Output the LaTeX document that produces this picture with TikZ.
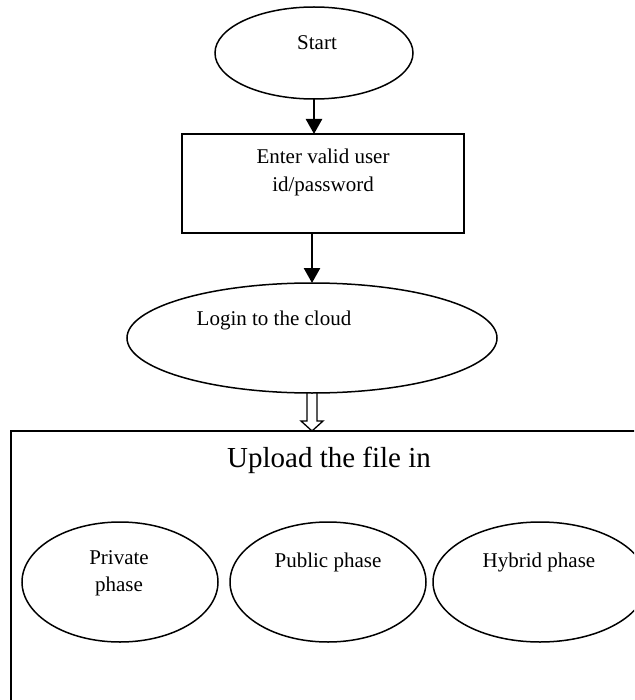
\documentclass[tikz,border=0pt]{standalone}
\usepackage{fontspec}
\setmainfont{Liberation Serif}
\usetikzlibrary{arrows.meta,shapes.geometric,calc}
\begin{document}
\begin{tikzpicture}[x=1pt,y=-1pt,
  oval/.style={draw, ellipse, line width=1.5pt, inner sep=0pt, outer sep=0pt},
  boxed/.style={draw, line width=1.6pt, inner sep=0pt, outer sep=0pt},
  txt/.style={font=\fontsize{21}{28}\selectfont, align=center, inner sep=0pt},
  flow/.style={line width=2.6pt, -{Triangle[width=16pt,length=15pt]}},
  hollow/.style={draw, line width=1.3pt, line join=miter},
]
\clip (0,0) rectangle (634,700);

% start
\node[oval, minimum width=198pt, minimum height=92pt] (start) at (314,53) {};
\node[txt] (startlbl) at (317,43) {Start};

% credentials
\node[boxed, minimum width=282pt, minimum height=99pt] (enter) at (323,183.5) {};
\node[txt] (enterlbl) at (323,172) {Enter valid user\\id/password};

% login
\node[oval, minimum width=370pt, minimum height=110pt] (login) at (312,338) {};
\node[txt] (loginlbl) at (274,320) {Login to the cloud};

% upload frame
\node[boxed, anchor=north west, minimum width=650pt, minimum height=290pt] (upload) at (11,431) {};
\node[font=\fontsize{29}{35}\selectfont, inner sep=0pt] (uploadlbl) at (329,460) {Upload the file in};

% phases
\node[oval, minimum width=196pt, minimum height=120pt] (priv) at (120,582) {};
\node[txt, font=\fontsize{21}{27}\selectfont] (privlbl) at (119,573) {Private\\phase};
\node[oval, minimum width=196pt, minimum height=120pt] (pub) at (328,582) {};
\node[txt] (publbl) at (328,562) {Public phase};
\node[oval, minimum width=214pt, minimum height=120pt] (hyb) at (540,582) {};
\node[txt] (hyblbl) at (539,562) {Hybrid phase};

% connectors
\draw[flow] (start.south) -- (start.south |- enter.north);
\draw[flow] (enter.south -| login.north) -- (login.north);
\draw[hollow] ($(login.south)+(-5,0)$) -- ++(0,28) -- ++(-6,0)
  -- (login.south |- upload.north) -- ++(11,-10) -- ++(-6,0) -- ++(0,-28);
\end{tikzpicture}
\end{document}
